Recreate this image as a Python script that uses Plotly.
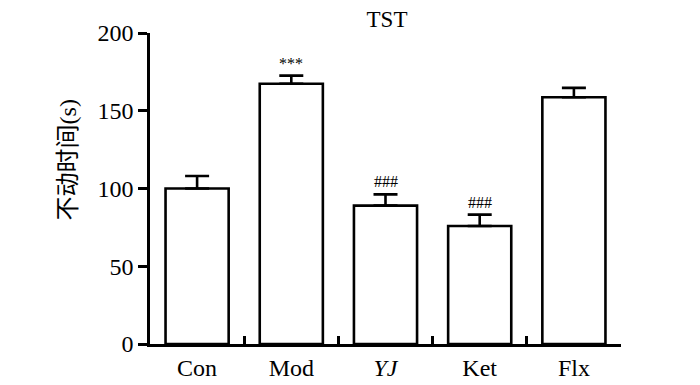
import plotly.graph_objects as go

categories = ["Con", "Mod", "<i>YJ</i>", "Ket", "Flx"]
means = [100, 167.4, 89, 75.9, 158.7]
errors = [8, 5.2, 7.2, 7.3, 6]
marks = ["", "***", "###", "###", ""]
y_ticks = [0, 50, 100, 150, 200]

xpos = list(range(len(categories)))
bounds = [i + 0.5 for i in xpos]

serif = "Liberation Serif"
cjk = "Noto Sans CJK SC"
W, H = 700, 385
L, R, T, B = 142, 87, 25, 44   # compensates the 8px page margin
pw, ph = W - L - R, H - T - B

fig = go.Figure()
fig.add_trace(go.Bar(
    x=xpos, y=means, width=0.67,
    marker=dict(color="white", line=dict(color="black", width=2.6)),
    error_y=dict(type="data", array=errors, symmetric=False, arrayminus=[0]*len(errors),
                 color="black", thickness=2.6, width=12),
    showlegend=False,
))
fig.add_trace(go.Scatter(x=[-0.5, 4.5], y=[0, 0], xaxis="x2", mode="markers",
                         marker=dict(opacity=0), showlegend=False, hoverinfo="skip"))

for x, m, e, t in zip(xpos, means, errors, marks):
    if t:
        fig.add_annotation(x=x, y=m + e, text=t, showarrow=False, yanchor="bottom",
                           yshift=2, font=dict(family=serif, size=16, color="black"))

fig.add_annotation(
    xref="paper", yref="paper", x=(57 - L) / pw, y=(H - B - 154.5) / ph,
    text="不动时间<span style='font-family:Liberation Serif'>(s)</span>",
    textangle=-90, showarrow=False, xanchor="center", yanchor="middle",
    font=dict(family=cjk, size=24, color="black"),
)

fig.update_layout(
    width=W, height=H,
    margin=dict(l=L, r=R, t=T, b=B),
    plot_bgcolor="white", paper_bgcolor="white",
    title=dict(text="TST", x=379 / W, xanchor="center", y=1 - 11 / H, yref="container",
               yanchor="middle", font=dict(family=serif, size=23, color="black")),
    xaxis=dict(range=[-0.5, 4.5], tickvals=xpos, ticktext=categories, ticks="",
               showline=True, linecolor="black", linewidth=2.6, showgrid=False, zeroline=False,
               tickfont=dict(family=serif, size=24, color="black")),
    xaxis2=dict(range=[-0.5, 4.5], overlaying="x", tickvals=bounds, ticks="inside",
                ticklen=8, tickwidth=2.6, tickcolor="black", showticklabels=False,
                showgrid=False, zeroline=False, showline=False, anchor="y"),
    yaxis=dict(range=[0, 200], tickvals=y_ticks, ticks="outside", ticklen=9, tickwidth=2.6,
               tickcolor="black", showline=True, linecolor="black", linewidth=2.6,
               showgrid=False, zeroline=False,
               tickfont=dict(family=serif, size=24, color="black")),
)
fig.write_html("out.html")
